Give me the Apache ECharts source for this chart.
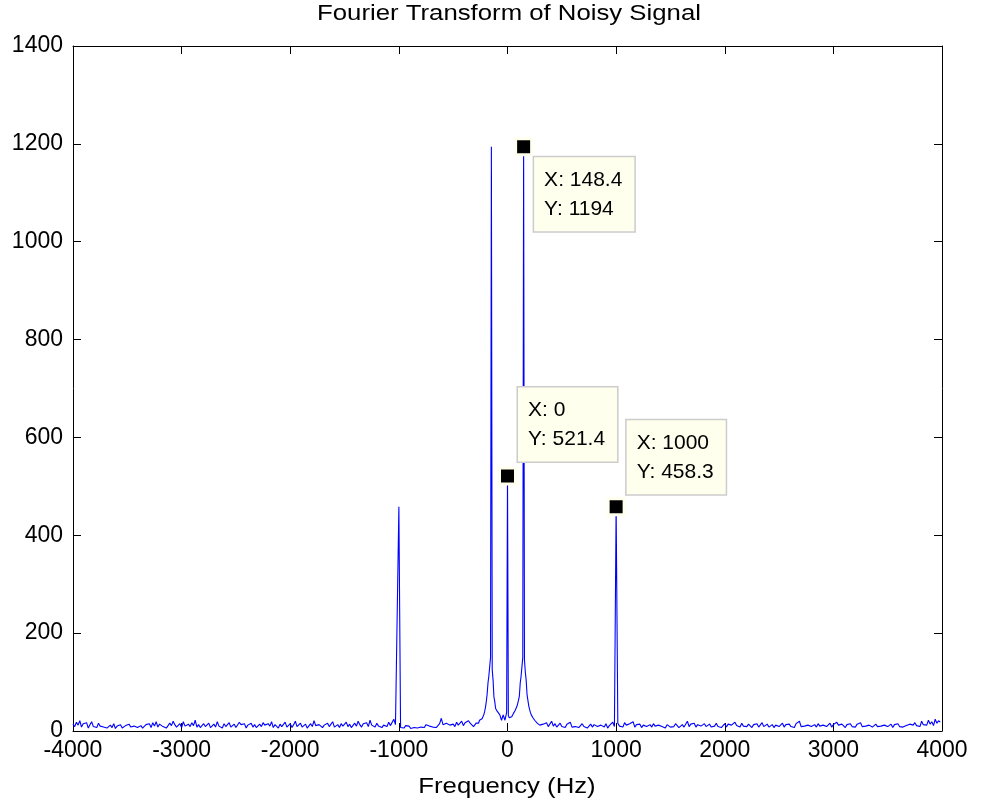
<!DOCTYPE html>
<html>
<head>
<meta charset="utf-8">
<script src="https://cdn.jsdelivr.net/npm/echarts@6/dist/echarts.min.js"></script>
<style>
  html, body { margin: 0; padding: 0; background: #ffffff; }
  #chart { width: 986px; height: 805px; }
</style>
</head>
<body>
<div id="chart"></div>
<script>
// Magnitude spectrum |FFT| of the noisy signal, fs = 8000 Hz.
// Noise floor, negative side: bins from -4000 Hz, every 15.625 Hz
const noiseLeftStart = -4000;
const noiseStep = 15.625;
const noiseLeft = [
  14, 9, 18, 12, 21, 8, 15, 11, 17, 6, 13, 19, 9, 12, 7, 16, 10, 14, 8, 11,
  6, 9, 12, 7, 15, 5, 10, 8, 13, 6, 9, 11, 7, 14, 8, 5, 10, 12, 7, 9,
  11, 6, 8, 13, 9, 15, 7, 17, 10, 19, 8, 14, 18, 9, 12, 6, 10, 16, 11, 20,
  13, 8, 12, 15, 7, 19, 10, 6, 14, 9, 17, 11, 22, 8, 13, 7, 10, 15, 9, 12,
  16, 7, 11, 14, 8, 19, 10, 13, 6, 15, 9, 12, 17, 8, 11, 14, 7, 10, 18, 13,
  9, 15, 6, 12, 10, 16, 8, 13, 7, 11, 14, 9, 17, 12, 8, 15, 10, 19, 7, 13,
  11, 6, 14, 9, 12, 18, 8, 10, 15, 7, 13, 20, 9, 11, 16, 8, 12, 14, 6, 10,
  15, 9, 21, 11, 8, 13, 17, 7, 12, 10, 16, 9, 14, 19, 8, 11, 13, 7, 15, 10,
  12, 18, 9, 14, 7, 11, 16, 10, 20, 13, 8, 15, 11, 17, 9, 22, 12, 14, 8, 16,
  10, 13, 7, 12, 15, 9, 18, 11, 14, 24, 13, 10, 12, 7, 9, 6, 11, 8, 10, 5,
  8, 7, 10, 6, 9, 8, 11, 7, 13, 9, 10, 14, 8, 12, 7, 11, 15, 26, 13, 10,
  16, 12, 12, 10, 14, 9, 18, 12, 15, 20, 11, 17, 13, 21, 16, 19
];

// Around DC: finer bins, every 7.8125 Hz from -312.5 Hz to 312.5 Hz
const centerStart = -312.5;
const centerStep = 7.8125;
const centerMag = [
  9, 13, 11, 16, 14, 18, 16, 22, 20, 23, 25, 28, 33, 39, 48, 60, 75, 98, 112, 131, 150,
  160,
  125, 104, 70, 60, 46, 43, 40, 39, 36, 33, 27, 22, 28, 33, 27, 22, 30, 38,
  40,
  32, 27, 30, 29, 29, 33, 36, 38, 42, 45, 50, 56, 63, 72, 98, 112, 131, 150,
  160,
  145, 120, 104, 75, 63, 52, 44, 38, 33, 29, 27, 25, 22, 20, 19, 16, 18, 13, 12, 15, 10
];

// Noise floor, positive side: bins from 328.125 Hz, every 15.625 Hz
const noiseRightStart = 328.125;
const noiseRight = [
  14, 11, 17, 9, 13, 20, 10, 15, 8, 12, 16, 9, 11, 7, 14, 10, 18, 8, 12, 9,
  13, 7, 11, 15, 9, 12, 6, 10, 14, 8, 13, 11, 9, 7, 12, 10, 8, 15, 6, 11,
  13, 18, 9, 12, 16, 10, 14, 8, 17, 12, 9, 15, 11, 19, 8, 13, 10, 14, 7, 12,
  16, 9, 11, 13, 8, 15, 10, 7, 12, 14, 9, 11, 6, 13, 10, 8, 12, 9, 15, 11,
  7, 10, 13, 8, 12, 20, 9, 14, 11, 16, 8, 13, 17, 10, 12, 15, 9, 11, 14, 8,
  12, 10, 16, 9, 13, 7, 11, 15, 8, 14, 10, 12, 9, 18, 11, 13, 8, 16, 10, 12,
  9, 14, 11, 7, 13, 10, 15, 8, 12, 17, 9, 11, 14, 8, 10, 13, 7, 12, 15, 9,
  11, 16, 8, 13, 10, 14, 9, 12, 7, 15, 11, 20, 9, 13, 10, 8, 12, 14, 9, 11,
  13, 8, 15, 10, 7, 12, 14, 9, 11, 16, 8, 13, 10, 18, 12, 9, 14, 11, 7, 13,
  10, 15, 9, 12, 8, 14, 11, 17, 9, 13, 10, 7, 12, 15, 8, 11, 14, 9, 13, 10,
  8, 12, 16, 9, 11, 14, 7, 13, 10, 15, 9, 12, 8, 6, 11, 9, 14, 10, 12, 17,
  11, 15, 9, 20, 13, 17, 12, 22, 14, 19, 11, 24, 16, 21, 18
];

// Spectral lines: 1000 Hz tone, 148.4 Hz tone and DC
const peakFreq = [-1000, -148.4, 0, 148.4, 1000];
const peakMag = [458.3, 1194, 521.4, 1194, 458.3];

// Data tips
const tipX = [148.4, 0, 1000];
const tipY = [1194, 521.4, 458.3];

// Axis ranges
const xMin = -4000, xMax = 4000, xStep = 1000;
const yMin = 0, yMax = 1400, yStep = 200;

const titleText = 'Fourier Transform of Noisy Signal';
const xAxisTitle = 'Frequency (Hz)';

function buildSpectrum() {
  const pts = [];
  noiseLeft.forEach((m, i) => pts.push([noiseLeftStart + i * noiseStep, m]));
  centerMag.forEach((m, i) => pts.push([centerStart + i * centerStep, m]));
  noiseRight.forEach((m, i) => pts.push([noiseRightStart + i * noiseStep, m]));
  peakFreq.forEach((f, j) => {
    let best = 0, dist = Infinity;
    pts.forEach((p, i) => {
      const d = Math.abs(p[0] - f);
      if (d < dist) { dist = d; best = i; }
    });
    pts[best] = [f, peakMag[j]];
  });
  pts.sort((a, b) => a[0] - b[0]);
  return pts;
}

const FONT = '"Liberation Sans", Arial, Helvetica, sans-serif';
const tipLayout = [
  { position: [20, 20], verticalAlign: 'top' },
  { position: [20, -5], verticalAlign: 'bottom' },
  { position: [20, -3], verticalAlign: 'bottom' }
];

const tipData = tipX.map((x, i) => ({
  value: [x, tipY[i]],
  label: {
    show: true,
    position: tipLayout[i].position,
    align: 'left',
    verticalAlign: tipLayout[i].verticalAlign,
    formatter: 'X: ' + x + '\nY: ' + tipY[i],
    fontFamily: FONT,
    fontSize: 21,
    lineHeight: 29,
    color: '#000',
    backgroundColor: '#ffffee',
    borderColor: '#cccccc',
    borderWidth: 1.5,
    padding: [8, 12, 8, 10]
  }
}));

const axisCommon = {
  type: 'value',
  splitLine: { show: false },
  axisLine: { show: true, onZero: false, lineStyle: { color: '#000', width: 1 } },
  axisTick: { show: true, inside: true, length: 8, lineStyle: { color: '#000', width: 1 } }
};

const plainNumber = v => String(v);

const chart = echarts.init(document.getElementById('chart'), null, { renderer: 'canvas' });
chart.setOption({
  animation: false,
  backgroundColor: '#ffffff',
  grid: { left: 73, right: 44, top: 46, bottom: 74, containLabel: false },
  xAxis: [
    Object.assign({}, axisCommon, {
      position: 'bottom',
      min: xMin, max: xMax, interval: xStep,
      axisLabel: {
        show: true, margin: 8, fontFamily: FONT, fontSize: 23, color: '#000',
        formatter: plainNumber,
        showMinLabel: true, showMaxLabel: true, hideOverlap: false
      }
    }),
    Object.assign({}, axisCommon, {
      position: 'top',
      min: xMin, max: xMax, interval: xStep,
      axisLabel: { show: false }
    })
  ],
  yAxis: [
    Object.assign({}, axisCommon, {
      position: 'left',
      min: yMin, max: yMax, interval: yStep,
      axisLabel: {
        show: true, margin: 10, fontFamily: FONT, fontSize: 23, color: '#000',
        formatter: plainNumber,
        showMinLabel: true, showMaxLabel: true
      }
    }),
    Object.assign({}, axisCommon, {
      position: 'right',
      min: yMin, max: yMax, interval: yStep,
      axisLabel: { show: false }
    })
  ],
  graphic: [
    {
      type: 'text', x: 509, y: 14, scaleX: 1.17,
      style: {
        text: titleText, fontFamily: FONT, fontSize: 22, fill: '#000',
        align: 'center', verticalAlign: 'middle'
      }
    },
    {
      type: 'text', x: 507, y: 787, scaleX: 1.17,
      style: {
        text: xAxisTitle, fontFamily: FONT, fontSize: 22, fill: '#000',
        align: 'center', verticalAlign: 'middle'
      }
    }
  ],
  series: [
    {
      type: 'line',
      data: buildSpectrum(),
      showSymbol: false,
      symbol: 'none',
      sampling: null,
      lineStyle: { color: '#0000ff', width: 1.1 },
      itemStyle: { color: '#0000ff' },
      z: 2
    },
    {
      type: 'scatter',
      data: tipData,
      symbol: 'rect',
      symbolSize: 16,
      itemStyle: { color: '#000000', borderColor: '#ffffee', borderWidth: 3, opacity: 1 },
      z: 5
    }
  ]
});
</script>
</body>
</html>
